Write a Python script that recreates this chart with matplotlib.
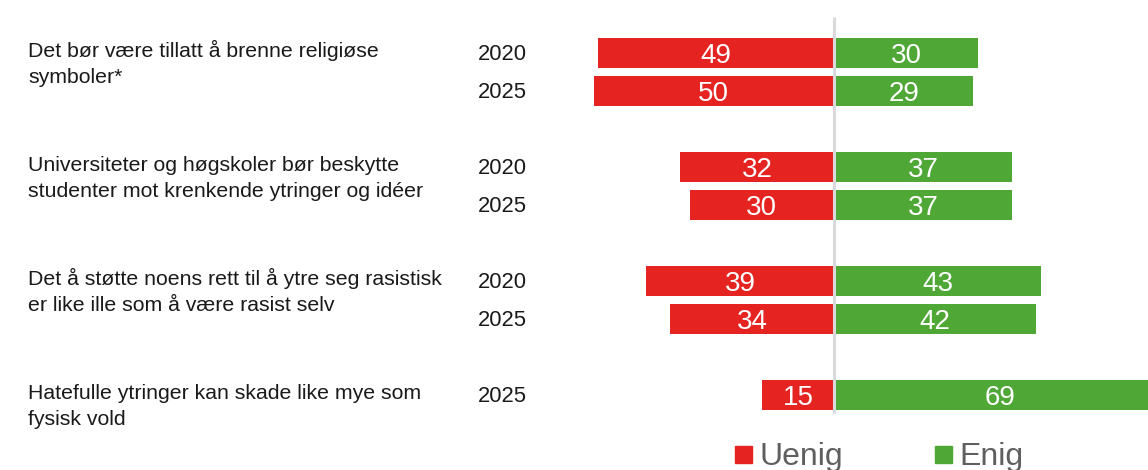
import matplotlib
matplotlib.use("Agg")
import matplotlib.pyplot as plt
from matplotlib.patches import Rectangle

plt.rcParams["font.family"] = ["Liberation Sans", "DejaVu Sans"]

# ---------------- data ----------------
questions = [
    "Det bør være tillatt å brenne religiøse\nsymboler*",
    "Universiteter og høgskoler bør beskytte\nstudenter mot krenkende ytringer og idéer",
    "Det å støtte noens rett til å ytre seg rasistisk\ner like ille som å være rasist selv",
    "Hatefulle ytringer kan skade like mye som\nfysisk vold",
]
years = ["2020", "2025", "2020", "2025", "2020", "2025", "2025"]
group = [0, 0, 1, 1, 2, 2, 3]
slot = [0, 1, 0, 1, 0, 1, 0]
uenig = [49, 50, 32, 30, 39, 34, 15]
enig = [30, 29, 37, 37, 43, 42, 69]
legend_labels = ["Uenig", "Enig"]

# ---------------- style ----------------
RED = "#E52421"
GREEN = "#4FA736"
TXT = "#1a1a1a"
LEG = "#5f5f5f"

W, H = 1148, 470
fig = plt.figure(figsize=(W / 100, H / 100), dpi=100)
ax = fig.add_axes([0, 0, 1, 1])
ax.axis("off")

PXU = 4.81        # pixels per percentage point
CX = 834          # pixel x of zero line
PITCH = 38        # pixels per row
Y0 = 53           # pixel y of first row centre
ax.set_xlim(-CX / PXU, (W - CX) / PXU)
ax.set_ylim((H - Y0) / PITCH, -Y0 / PITCH)

pos = [g * 3 + s for g, s in zip(group, slot)]
bh = 29.5 / PITCH

ax.barh(pos, [-u for u in uenig], height=bh, color=RED, edgecolor="none", zorder=2)
ax.barh(pos, enig, height=bh, color=GREEN, edgecolor="none", zorder=2)

ax.plot([0, 0], [(17 - Y0) / PITCH, (413 - Y0) / PITCH], color="#d9d9d9",
        lw=2.2, zorder=3, solid_capstyle="butt")

num_fs = 20.0
num_off = 10.3 / PITCH
for p, u, e in zip(pos, uenig, enig):
    ax.text(-u / 2, p + num_off, str(u), ha="center", va="baseline",
            color="white", fontsize=num_fs, zorder=4)
    ax.text(e / 2, p + num_off, str(e), ha="center", va="baseline",
            color="white", fontsize=num_fs, zorder=4)

# years
yr_fs = 15.8
yr_off = 7.0 / PITCH
for p, y in zip(pos, years):
    ax.text(-(CX - 478) / PXU, p + yr_off, y, ha="left", va="baseline",
            color=TXT, fontsize=yr_fs)

# questions
q_fs = 15.3
for g, q in enumerate(questions):
    for i, line in enumerate(q.split("\n")):
        base_px = 57.3 + g * 3 * PITCH + i * 26
        fig.text(28 / W, 1 - base_px / H, line, ha="left", va="baseline",
                 color=TXT, fontsize=q_fs)

# legend
leg_fs = 23.0
for lab, col, xs, xt in zip(legend_labels, [RED, GREEN], [735, 935], [759.5, 959]):
    fig.patches.append(Rectangle((xs / W, 1 - 463 / H), 17 / W, 17 / H,
                                 transform=fig.transFigure, color=col))
    fig.text(xt / W, 1 - 465.5 / H, lab, ha="left", va="baseline",
             color=LEG, fontsize=leg_fs)

fig.savefig("out.png", dpi=100)
